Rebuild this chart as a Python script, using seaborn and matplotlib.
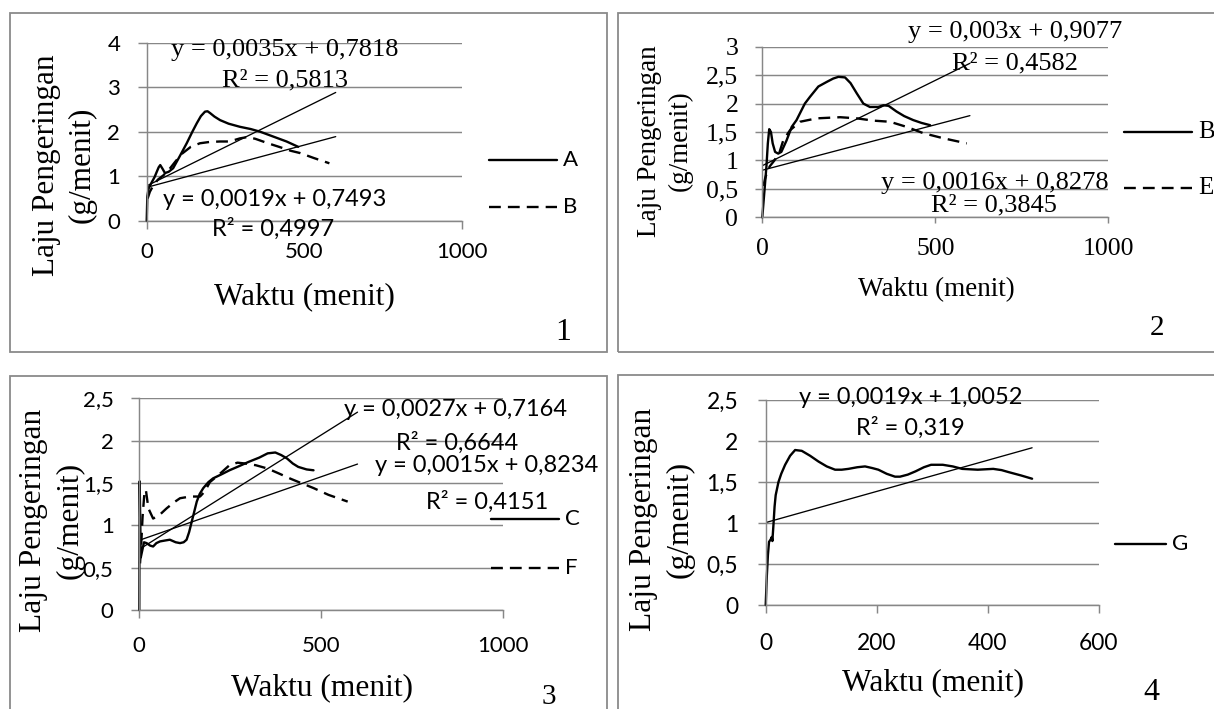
import numpy as np
import pandas as pd
import matplotlib
matplotlib.use("Agg")
import matplotlib.pyplot as plt
import seaborn as sns
from matplotlib.patches import Rectangle
from matplotlib.lines import Line2D
from matplotlib.ticker import FuncFormatter

# ---------------------------------------------------------------- data
# Panel 1: samples A and B
p1_time_A = [0, 2, 6, 15, 25, 32, 38, 43, 50, 58, 70, 84, 105, 127, 145, 159, 172,
             185, 193, 201, 215, 233, 260, 296, 330, 360, 402, 444, 481]
p1_rate_A = [0.0, 0.55, 0.72, 0.85, 0.98, 1.10, 1.20, 1.25, 1.17, 1.07, 1.10, 1.18,
             1.45, 1.74, 2.00, 2.19, 2.35, 2.45, 2.46, 2.42, 2.34, 2.26, 2.18, 2.11,
             2.06, 2.00, 1.89, 1.78, 1.66]
p1_time_B = [3, 10, 20, 35, 53, 70, 90, 111, 140, 169, 200, 233, 263, 296, 320, 345,
             385, 420, 458, 487, 530, 580]
p1_rate_B = [0.50, 0.65, 0.78, 0.92, 1.02, 1.14, 1.32, 1.50, 1.66, 1.74, 1.77, 1.78,
             1.78, 1.85, 1.88, 1.84, 1.74, 1.66, 1.57, 1.52, 1.41, 1.29]
p1_fit = {"A": (0.0035, 0.7818, 0.5813), "B": (0.0019, 0.7493, 0.4997)}

# Panel 2: samples B and E
p2_time_B = [0, 4, 8, 12, 16, 20, 25, 30, 37, 46, 55, 70, 85, 99, 123, 138, 162, 186,
             205, 220, 239, 255, 273, 292, 311, 335, 350, 365, 388, 410, 436, 460, 485]
p2_rate_B = [0.0, 0.30, 0.60, 0.90, 1.30, 1.55, 1.50, 1.30, 1.15, 1.12, 1.15, 1.35,
             1.59, 1.71, 2.00, 2.12, 2.30, 2.38, 2.44, 2.47, 2.46, 2.36, 2.18, 2.00,
             1.94, 1.94, 1.97, 1.96, 1.86, 1.78, 1.71, 1.66, 1.62]
p2_time_E = [3, 8, 15, 22, 35, 50, 61, 80, 109, 157, 225, 273, 321, 369, 417, 465,
             523, 591]
p2_rate_E = [0.55, 0.68, 0.82, 0.90, 1.00, 1.15, 1.36, 1.53, 1.68, 1.74, 1.76, 1.74,
             1.70, 1.68, 1.59, 1.48, 1.39, 1.30]
p2_fit = {"B": (0.003, 0.9077, 0.4582), "E": (0.0016, 0.8278, 0.3845)}

# Panel 3: samples C and F
p3_time_C = [0, 1, 4, 8, 13, 20, 30, 38, 47, 57, 70, 84, 100, 112, 122, 130, 137, 144,
             151, 158, 166, 176, 190, 203, 225, 248, 275, 301, 330, 353, 374, 390, 406,
             422, 437, 460, 479]
p3_rate_C = [0.0, 1.52, 0.62, 0.70, 0.80, 0.79, 0.76, 0.75, 0.79, 0.81, 0.82, 0.83,
             0.80, 0.79, 0.80, 0.83, 0.92, 1.04, 1.16, 1.28, 1.37, 1.44, 1.51, 1.555,
             1.60, 1.65, 1.70, 1.75, 1.80, 1.85, 1.86, 1.83, 1.79, 1.73, 1.69, 1.66, 1.65]
p3_time_F = [2, 5, 9, 14, 18, 25, 38, 55, 75, 95, 112, 140, 167, 180, 194, 222, 248,
             270, 291, 320, 353, 385, 416, 450, 479, 520, 573]
p3_rate_F = [0.55, 0.75, 1.10, 1.38, 1.42, 1.20, 1.08, 1.12, 1.20, 1.27, 1.32, 1.34,
             1.34, 1.40, 1.51, 1.61, 1.71, 1.74, 1.73, 1.71, 1.67, 1.61, 1.55, 1.49,
             1.44, 1.36, 1.28]
p3_fit = {"C": (0.0027, 0.7164, 0.6644), "F": (0.0015, 0.8234, 0.4151)}

# Panel 4: sample G
p4_time_G = [0, 2, 4, 6, 9, 11, 12, 14, 16, 18, 23, 28, 35, 44, 53, 65, 80, 95, 110,
             125, 137, 149, 165, 179, 192, 203, 218, 233, 242, 256, 270, 285, 298, 319,
             337, 354, 382, 410, 425, 438, 460, 480]
p4_rate_G = [0.0, 0.35, 0.61, 0.77, 0.80, 0.83, 0.78, 0.98, 1.20, 1.34, 1.50, 1.60,
             1.71, 1.82, 1.89, 1.88, 1.82, 1.75, 1.69, 1.65, 1.65, 1.66, 1.68, 1.69,
             1.67, 1.65, 1.60, 1.565, 1.565, 1.59, 1.63, 1.68, 1.71, 1.71, 1.69, 1.66,
             1.65, 1.66, 1.645, 1.62, 1.58, 1.54]
p4_fit = {"G": (0.0019, 1.0052, 0.319)}

x_label = "Waktu (menit)"
y_label = ["Laju Pengeringan", "(g/menit)"]

# ---------------------------------------------------------------- style
sns.set_theme(style="white")
SERIF = ["Liberation Serif", "DejaVu Serif"]
SANS = ["Lato", "DejaVu Sans"]
plt.rcParams["font.family"] = SERIF

W, H, DPI = 1214, 709, 100
GRID = "#878787"
FRAME = "#8a8a8a"
LW_SERIES = 1.7
LW_TREND = 0.95
DASH = (0, (5.0, 3.0))

fig = plt.figure(figsize=(W / DPI, H / DPI), dpi=DPI)
fig.patch.set_facecolor("white")


def fx(px):
    return px / W


def fy(py):
    return 1 - py / H


def comma(v, _pos=None):
    s = f"{v:g}"
    return s.replace(".", ",")


def add_panel(box, xmax, xstep, ymax, ystep, font, tsize, ytick_len, ypad,
              xtick_len, xpad):
    x0, x1, yt, yb = box
    ax = fig.add_axes([fx(x0), fy(yb), (x1 - x0) / W, (yb - yt) / H])
    ax.set_facecolor("none")
    ax.set_xlim(0, xmax)
    ax.set_ylim(0, ymax)
    ax.set_xticks(np.arange(0, xmax + 1e-9, xstep))
    ax.set_yticks(np.arange(0, ymax + 1e-9, ystep))
    ax.xaxis.set_major_formatter(FuncFormatter(comma))
    ax.yaxis.set_major_formatter(FuncFormatter(comma))
    ax.set_axisbelow(True)
    ax.yaxis.grid(True, color=GRID, lw=1.05)
    ax.xaxis.grid(False)
    for s in ("top", "right"):
        ax.spines[s].set_visible(False)
    for s in ("left", "bottom"):
        ax.spines[s].set_color(GRID)
        ax.spines[s].set_linewidth(1.05)
    ax.tick_params(axis="y", which="major", direction="out", length=ytick_len,
                   width=1.05, color=GRID, pad=ypad, left=True,
                   labelsize=tsize, labelcolor="black")
    ax.tick_params(axis="x", which="major", direction="out", length=xtick_len,
                   width=1.05, color=GRID, pad=xpad, bottom=True,
                   labelsize=tsize, labelcolor="black")
    for lab in ax.get_xticklabels() + ax.get_yticklabels():
        lab.set_family(font)
    ax.set_xlabel("")
    ax.set_ylabel("")
    return ax


def draw_series(ax, t, r, dashed=False):
    df = pd.DataFrame({"t": t, "r": r})
    sns.lineplot(data=df, x="t", y="r", ax=ax, sort=False, estimator=None,
                 color="black", lw=LW_SERIES,
                 linestyle=DASH if dashed else "-", clip_on=False)
    ax.set_xlabel("")
    ax.set_ylabel("")


def draw_trend(ax, fit, xend):
    slope, icpt, _ = fit
    xs = np.array([0.0, xend])
    df = pd.DataFrame({"t": xs, "r": slope * xs + icpt})
    sns.lineplot(data=df, x="t", y="r", ax=ax, sort=False, estimator=None,
                 color="black", lw=LW_TREND)
    ax.set_xlabel("")
    ax.set_ylabel("")


def eq_text(fit):
    slope, icpt, r2 = fit
    return (f"y = {comma(slope)}x + {comma(icpt)}", f"R² = {comma(r2)}")


def put(px, py, s, size, fam, **kw):
    fig.text(fx(px), fy(py), s, fontsize=size, family=fam, ha="center",
             va="center", color="black", **kw)


def frame(x0, y0, x1, y1):
    fig.add_artist(Rectangle((fx(x0), fy(y1)), (x1 - x0) / W, (y1 - y0) / H,
                             fill=False, ec=FRAME, lw=1.3,
                             transform=fig.transFigure))


def legend_entry(xa, xb, y, label, dashed, size, fam):
    fig.add_artist(Line2D([fx(xa), fx(xb)], [fy(y), fy(y)], color="black",
                          lw=LW_SERIES, linestyle=DASH if dashed else "-",
                          transform=fig.transFigure))
    fig.text(fx(xb + 6), fy(y), label, fontsize=size, family=fam,
             ha="left", va="center", color="black")


# ---------------------------------------------------------------- frames
frame(10, 12.7, 607, 352)
frame(617.7, 12.7, 1240, 351.7)
frame(10, 375.7, 607, 740)
frame(617.7, 375, 1240, 740)

# ---------------------------------------------------------------- panel 1
ax1 = add_panel((146.7, 461.7, 42.7, 220.7), 1000, 500, 4, 1, SANS, 16,
                6.5, 12.5, 5.5, 9.5)
draw_series(ax1, p1_time_A, p1_rate_A)
draw_series(ax1, p1_time_B, p1_rate_B, dashed=True)
draw_trend(ax1, p1_fit["A"], 600)
draw_trend(ax1, p1_fit["B"], 600)
e, r = eq_text(p1_fit["A"])
put(285, 50, e, 19, SERIF)
put(285.5, 80, r, 19, SERIF)
e, r = eq_text(p1_fit["B"])
put(274.5, 199, e, 17, SANS)
put(273.5, 229, r, 17, SANS)
put(47, 165, y_label[0], 22.5, SERIF, rotation=90)
put(82, 165, y_label[1], 22.5, SERIF, rotation=90)
put(304.5, 297, x_label, 22.5, SERIF)
legend_entry(489, 557, 160, "A", False, 16, SANS)
legend_entry(489, 557, 207, "B", True, 16, SANS)
put(563, 333, "1", 23, SERIF)

# ---------------------------------------------------------------- panel 2
ax2 = add_panel((762.3, 1108.3, 46.7, 217.3), 1000, 500, 3, 0.5, SERIF, 18.5,
                4.8, 12.5, 4.5, 10.5)
draw_series(ax2, p2_time_B, p2_rate_B)
draw_series(ax2, p2_time_E, p2_rate_E, dashed=True)
draw_trend(ax2, p2_fit["B"], 600)
draw_trend(ax2, p2_fit["E"], 600)
e, r = eq_text(p2_fit["B"])
put(1015.5, 32, e, 19, SERIF)
put(1015.5, 63, r, 19, SERIF)
e, r = eq_text(p2_fit["E"])
put(995, 183, e, 19, SERIF)
put(994, 205, r, 19, SERIF)
put(650, 141, y_label[0], 19.5, SERIF, rotation=90)
put(680, 141, y_label[1], 19.5, SERIF, rotation=90)
put(936, 290, x_label, 19.5, SERIF)
legend_entry(1124, 1192, 131.7, "B", False, 18, SERIF)
legend_entry(1124, 1192, 188, "E", True, 18, SERIF)
put(1157, 328, "2", 21, SERIF)

# ---------------------------------------------------------------- panel 3
ax3 = add_panel((139.3, 503, 398.3, 610), 1000, 500, 2.5, 0.5, SANS, 16,
                5.5, 13, 6, 13)
draw_series(ax3, p3_time_C, p3_rate_C)
draw_series(ax3, p3_time_F, p3_rate_F, dashed=True)
draw_trend(ax3, p3_fit["C"], 600)
draw_trend(ax3, p3_fit["F"], 600)
e, r = eq_text(p3_fit["C"])
put(456, 410, e, 17, SANS)
put(457, 443, r, 17, SANS)
e, r = eq_text(p3_fit["F"])
put(487, 465, e, 17, SANS)
put(487, 502, r, 17, SANS)
put(33.5, 520, y_label[0], 22.7, SERIF, rotation=90)
put(70, 520, y_label[1], 22.7, SERIF, rotation=90)
put(321.5, 688, x_label, 22.7, SERIF)
legend_entry(491, 559, 519, "C", False, 16, SANS)
legend_entry(491, 559, 568, "F", True, 16, SANS)
put(549, 697, "3", 21, SERIF)

# ---------------------------------------------------------------- panel 4
ax4 = add_panel((765.7, 1098.7, 400, 605), 600, 200, 2.5, 0.5, SANS, 16.4,
                5.8, 14, 6, 14)
draw_series(ax4, p4_time_G, p4_rate_G)
draw_trend(ax4, p4_fit["G"], 480)
e, r = eq_text(p4_fit["G"])
put(911, 398, e, 17, SANS)
put(910, 428, r, 17, SANS)
put(643, 519, y_label[0], 22.7, SERIF, rotation=90)
put(680, 519, y_label[1], 22.7, SERIF, rotation=90)
put(933, 683, x_label, 22.7, SERIF)
legend_entry(1114.5, 1166, 544, "G", False, 16, SANS)
put(1151, 692, "4", 23, SERIF)

fig.savefig("out.png", dpi=DPI, facecolor="white")
